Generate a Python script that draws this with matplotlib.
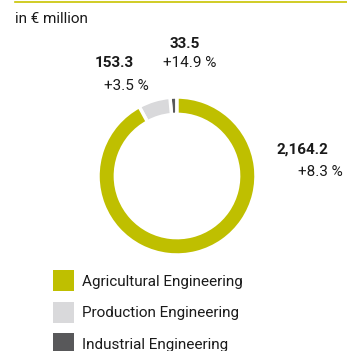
import matplotlib
matplotlib.use("Agg")
import matplotlib.pyplot as plt
from matplotlib.patches import Rectangle
from matplotlib.lines import Line2D

# segments, in drawing order (counter-clockwise from 12 o'clock)
segments = ['Industrial Engineering', 'Production Engineering', 'Agricultural Engineering']
values = [33.5, 153.3, 2164.2]
value_labels = ['33.5', '153.3', '2,164.2']
change_labels = ['+14.9 %', '+3.5 %', '+8.3 %']
colors = ['#58585a', '#d9d9db', '#bfbf00']

legend_order = ['Agricultural Engineering', 'Production Engineering', 'Industrial Engineering']

plt.rcParams['font.family'] = ['Roboto', 'DejaVu Sans']
W, H = 347, 351
fig = plt.figure(figsize=(W / 100, H / 100), dpi=100)

def px(x, y):
    # pixel from top-left -> figure fraction
    return x / W, 1 - y / H

fs = 11
txt = '#1a1a1a'

# top rule
fig.add_artist(Line2D([15 / W, 1], [1 - 1.5 / H, 1 - 1.5 / H], color='#c8c400', lw=1.2))
fig.text(*px(15, 19), 'in € million', fontsize=fs, color=txt, va='center')

# donut
cx, cy, r = 177, 176, 79
ax = fig.add_axes([(cx - r) / W, (H - cy - r) / H, 2 * r / W, 2 * r / H])
ax.pie(values, colors=colors, startangle=90, counterclock=True,
       wedgeprops=dict(width=0.22, edgecolor='white', linewidth=2.5))
ax.set_xlim(-1, 1)
ax.set_ylim(-1, 1)
ax.set_aspect('equal')
ax.axis('off')

# value labels
pos = {
    'Industrial Engineering': ((185, 44), (190, 63)),
    'Production Engineering': ((114, 63), (126, 86)),
    'Agricultural Engineering': ((302, 150), (320, 172)),
}
for name, v, c in zip(segments, value_labels, change_labels):
    (x1, y1), (x2, y2) = pos[name]
    fig.text(*px(x1, y1), v, fontsize=fs, fontweight='bold', color=txt,
             ha='center', va='center')
    fig.text(*px(x2, y2), c, fontsize=fs, color=txt, ha='center', va='center')

# legend
for i, name in enumerate(legend_order):
    col = colors[segments.index(name)]
    top = 270 + i * 31.5
    fig.add_artist(Rectangle(px(53, top + 21), 21 / W, 21 / H, facecolor=col,
                             edgecolor='none', transform=fig.transFigure))
    fig.text(*px(82, top + 12), name, fontsize=fs, color=txt, va='center')

fig.savefig('out.png', dpi=100)
